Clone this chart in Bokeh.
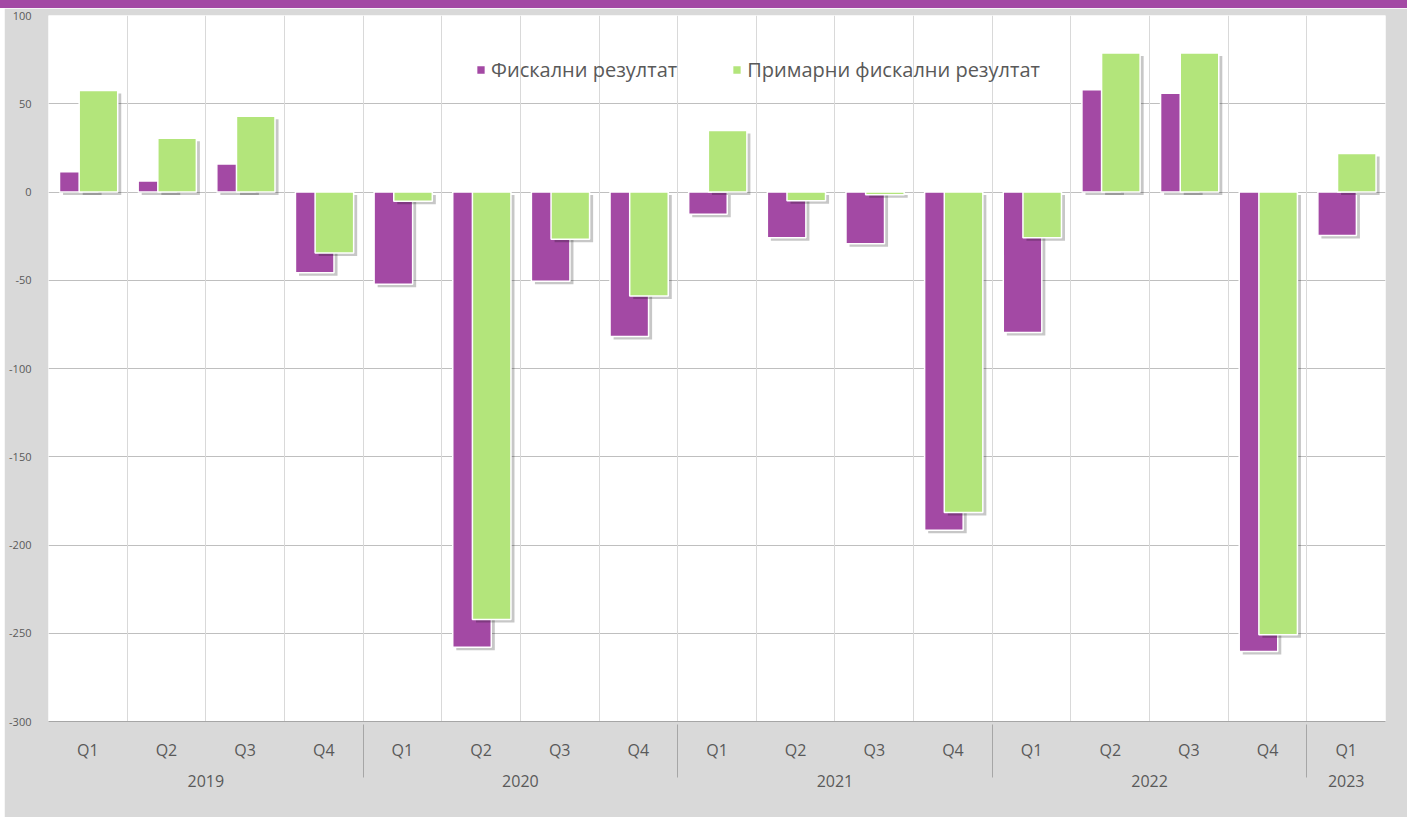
from bokeh.plotting import figure
from bokeh.models import (FactorRange, Legend, LegendItem, Grid, FixedTicker,
                          ColumnDataSource, Div, PrintfTickFormatter)
from bokeh.transform import dodge
from bokeh.layouts import column
from bokeh.embed import file_html
from bokeh.resources import INLINE

# ---- data ----
years = ["2019"] * 4 + ["2020"] * 4 + ["2021"] * 4 + ["2022"] * 4 + ["2023"]
quarters = ["Q1", "Q2", "Q3", "Q4"] * 4 + ["Q1"]
fiscal = [11.5, 6.3, 15.8, -45.8, -52.3, -258.0, -50.6, -81.8,
          -12.6, -25.9, -29.3, -191.6, -79.6, 57.9, 55.9, -260.3, -24.6]
primary = [57.5, 30.5, 42.9, -34.6, -5.2, -242.2, -26.8, -58.9,
           34.9, -5.0, -1.5, -181.6, -25.9, 78.8, 78.8, -250.8, 21.8]
series_names = ["Фискални резултат", "Примарни фискални резултат"]
y_ticks = [-300, -250, -200, -150, -100, -50, 0, 50, 100]

PURPLE = "#A349A4"
GREEN = "#B3E57B"
TXT = "#595959"

factors = list(zip(years, quarters))
Y0, Y1 = -300, 100
PX = (Y1 - Y0) / 706  # value units per pixel of the frame

shadow_dy = 3 * PX  # shadow offset (~3px)
src = ColumnDataSource(dict(
    x=factors,
    fiscal=fiscal,
    primary=primary,
    fiscal_sh=[v - shadow_dy for v in fiscal],
    primary_sh=[v - shadow_dy for v in primary],
    base_sh=[-shadow_dy] * len(fiscal),
))

xr = FactorRange(factors=factors, group_padding=0, factor_padding=0,
                 subgroup_padding=0, range_padding=0)

p = figure(x_range=xr, y_range=(Y0, Y1), width=1403, height=809,
           output_backend="svg", toolbar_location=None,
           background_fill_color="white", border_fill_color="#D9D9D9",
           min_border_left=44, min_border_right=22, min_border_top=7,
           min_border_bottom=96, outline_line_color=None)
p.margin = (0, 0, 0, 4)

W = 0.49
OFF_F = -0.115
OFF_P = 0.135
SH_DX = 0.045

# shadows + bars
p.vbar(x=dodge("x", OFF_F + SH_DX, range=xr), top="fiscal_sh", bottom="base_sh",
       width=W, source=src, fill_color="#000000", fill_alpha=0.22, line_color=None)
r1 = p.vbar(x=dodge("x", OFF_F, range=xr), top="fiscal", bottom=0, width=W,
            source=src, fill_color=PURPLE, line_color="white", line_width=1.5)
p.vbar(x=dodge("x", OFF_P + SH_DX, range=xr), top="primary_sh", bottom="base_sh",
       width=W, source=src, fill_color="#000000", fill_alpha=0.22, line_color=None)
r2 = p.vbar(x=dodge("x", OFF_P, range=xr), top="primary", bottom=0, width=W,
            source=src, fill_color=GREEN, line_color="white", line_width=1.5)

# grids
p.xgrid.visible = False
p.ygrid.grid_line_color = "#BFBFBF"
p.ygrid.grid_line_width = 1
p.ygrid.level = "underlay"
p.yaxis.ticker = FixedTicker(ticks=y_ticks)
vgrid = Grid(dimension=0, ticker=FixedTicker(ticks=list(range(0, len(factors) + 1))),
             grid_line_color="#D9D9D9", grid_line_width=1, level="underlay")
p.add_layout(vgrid)

# y axis
p.yaxis.formatter = PrintfTickFormatter(format="%d")
p.yaxis.axis_line_color = None
p.yaxis.major_tick_line_color = None
p.yaxis.minor_tick_line_color = None
p.yaxis.major_label_text_font_size = "11px"
p.yaxis.major_label_text_color = TXT
p.yaxis.major_label_text_font = "Open Sans"
p.yaxis.major_label_standoff = 11

# x axis
p.xaxis.axis_line_color = "#A6A6A6"
p.xaxis.major_tick_line_color = None
p.xaxis.minor_tick_line_color = None
p.xaxis.major_label_text_font_size = "16px"
p.xaxis.major_label_text_color = TXT
p.xaxis.major_label_text_font = "Open Sans"
p.xaxis.major_label_standoff = 11
p.xaxis.group_text_font_size = "16px"
p.xaxis.group_text_color = TXT
p.xaxis.group_text_font = "Open Sans"
p.xaxis.group_text_font_style = "normal"
p.xaxis.separator_line_color = "#A6A6A6"
p.xaxis.separator_line_width = 1

legend = Legend(items=[LegendItem(label=series_names[0], renderers=[r1]),
                       LegendItem(label=series_names[1], renderers=[r2])],
                orientation="horizontal", location=(427, 638),
                background_fill_alpha=0, border_line_alpha=0,
                label_text_font_size="20px", label_text_color=TXT,
                label_text_font="Open Sans",
                glyph_width=11, glyph_height=11, label_standoff=5,
                spacing=54, padding=0, margin=0)
p.add_layout(legend)

# purple band across the top of the chart
band = Div(text="", width=1407, height=8, margin=0,
           styles={"background-color": PURPLE})

layout = column(band, p, spacing=0, margin=0)

open("out.html", "w").write(file_html(layout, INLINE))
